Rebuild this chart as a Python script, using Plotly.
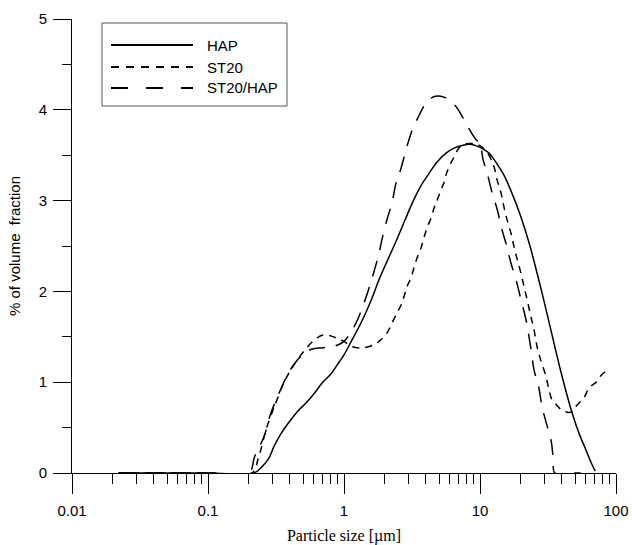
import plotly.graph_objects as go

# ---------------- data ----------------
hap_x = [0.022, 0.1, 0.218, 0.25, 0.28, 0.305, 0.34, 0.39, 0.45, 0.525, 0.6, 0.69, 0.8, 0.92, 1.0,
         1.14, 1.36, 1.6, 1.81, 2.1, 2.41, 2.8, 3.17, 3.7, 4.22, 4.8, 5.6, 6.5, 7.5, 8.5, 9.5, 10.5,
         11.7, 13, 15, 17.2, 20, 23, 26.5, 30.6, 35, 40.2, 47.6, 54, 60.3, 65, 70.3]
hap_y = [0, 0, 0, 0.07, 0.16, 0.29, 0.42, 0.55, 0.67, 0.77, 0.87, 0.99, 1.09, 1.22, 1.30,
         1.46, 1.68, 1.92, 2.13, 2.35, 2.55, 2.78, 2.97, 3.17, 3.30, 3.42, 3.52, 3.58, 3.61, 3.62, 3.60, 3.57,
         3.52, 3.43, 3.28, 3.08, 2.82, 2.53, 2.18, 1.80, 1.43, 1.06, 0.66, 0.42, 0.25, 0.13, 0.02]

st20_x = [0.022, 0.1, 0.21, 0.236, 0.27, 0.315, 0.36, 0.42, 0.5, 0.6, 0.7, 0.8, 0.9, 1.0, 1.15,
          1.4, 1.7, 1.81, 2.07, 2.25, 2.45, 2.63, 2.76, 2.9, 3.11, 3.27, 3.45, 3.69, 3.87, 4.08,
          4.37, 4.6, 4.83, 5.17, 5.44, 5.7, 6.1, 6.45, 7.0, 7.6, 8.5, 9.5, 10.5, 11.3, 12.1, 12.7,
          13.4, 14.3, 15, 15.8, 16.9, 17.8, 18.8, 20, 21.1, 22.2, 23.7, 25, 26.3, 28, 30.6, 32.2,
          34, 36, 40.2, 46.6, 51.8, 58.2, 63.6, 71.4, 78.2, 86, 88]
st20_y = [0, 0, 0, 0.18, 0.50, 0.77, 0.99, 1.17, 1.33, 1.46, 1.52, 1.51, 1.48, 1.45, 1.39,
          1.38, 1.42, 1.45, 1.54, 1.65, 1.76, 1.85, 1.94, 2.05, 2.15, 2.26, 2.37, 2.48, 2.59, 2.70,
          2.81, 2.92, 3.00, 3.12, 3.20, 3.31, 3.41, 3.48, 3.58, 3.62, 3.63, 3.62, 3.58, 3.53, 3.45, 3.37,
          3.22, 3.08, 2.93, 2.79, 2.64, 2.49, 2.35, 2.20, 2.05, 1.91, 1.72, 1.57, 1.39, 1.24, 1.06, 0.91,
          0.80, 0.76, 0.69, 0.67, 0.75, 0.83, 0.94, 1.00, 1.08, 1.13, 1.14]

mix_x = [0.022, 0.1, 0.2, 0.22, 0.258, 0.29, 0.34, 0.39, 0.47, 0.57, 0.7, 0.8, 0.9, 1.0, 1.1,
         1.25, 1.5, 1.81, 1.9, 2.07, 2.25, 2.41, 2.63, 2.86, 3.11, 3.57, 4.08, 4.7, 5.44, 6.1,
         6.78, 8.03, 9.35, 10.0, 10.5, 11.3, 12.3, 13.4, 14.5, 15.8, 16.9, 18.4, 20.0, 21.7, 23.5,
         25, 27, 28.6, 30.6, 33.3, 34.5, 35.5, 45, 55]
mix_y = [0, 0, 0, 0.18, 0.40, 0.66, 0.91, 1.10, 1.27, 1.36, 1.38, 1.39, 1.41, 1.45, 1.53,
         1.68, 2.00, 2.42, 2.57, 2.79, 2.97, 3.19, 3.36, 3.56, 3.74, 3.94, 4.09, 4.15, 4.14, 4.09,
         4.02, 3.83, 3.67, 3.64, 3.46, 3.30, 3.08, 2.90, 2.68, 2.49, 2.31, 2.13, 1.91, 1.70, 1.40,
         1.13, 0.95, 0.73, 0.56, 0.36, 0.17, 0, 0, 0]

series_names = ["HAP", "ST20", "ST20/HAP"]
x_tickvals = [0.01, 0.1, 1, 10, 100]
x_ticktext = ["0.01", "0.1", "1", "10", "100"]
y_tickvals = [0, 1, 2, 3, 4, 5]

dashes = ["solid", "7px,6px", "16px,11px"]
legend_dashes = ["solid", "8px,7px", "17px,18px"]

SANS = "Liberation Sans, Arial"
SERIF = "Liberation Serif, Times New Roman"

fig = go.Figure()
for xs, ys, name, d in zip([hap_x, st20_x, mix_x], [hap_y, st20_y, mix_y], series_names, dashes):
    fig.add_trace(go.Scatter(x=xs, y=ys, mode="lines", name=name, line_shape="spline",
                             line=dict(color="black", width=1.5, dash=d), showlegend=False))

# custom legend (box, line samples, labels)
L, R, T, B = 72, 616, 19, 473
W, H = R - L, B - T
def px(x): return (x - L) / W
def py(y): return (B - y) / H

fig.add_shape(type="rect", xref="paper", yref="paper", x0=px(102), x1=px(287), y0=py(106), y1=py(23),
              line=dict(color="#555555", width=1), fillcolor="white", layer="above")
rows = [45, 67, 88]
for name, d, r in zip(series_names, legend_dashes, rows):
    fig.add_shape(type="line", xref="paper", yref="paper", x0=px(111), x1=px(193), y0=py(r), y1=py(r),
                  line=dict(color="black", width=2, dash=d), layer="above")
    fig.add_annotation(xref="paper", yref="paper", x=px(205), y=py(r), text=name, showarrow=False,
                       xanchor="left", yanchor="middle",
                       font=dict(family=SANS, size=15, color="black"))

fig.update_layout(
    width=632, height=545,
    margin=dict(l=L, r=632 - R, t=T, b=545 - B, autoexpand=False),
    plot_bgcolor="white", paper_bgcolor="white",
    font=dict(family=SANS, size=15, color="black"),
)
fig.update_xaxes(type="log", range=[-2, 2], showgrid=False, zeroline=False, automargin=False,
                 showline=True, linecolor="black", linewidth=1,
                 tickmode="array", tickvals=x_tickvals, ticktext=x_ticktext,
                 ticks="outside", ticklen=20, tickcolor="black", tickwidth=1,
                 minor=dict(ticks="outside", ticklen=10, tickcolor="black", dtick="D1", showgrid=False),
                 ticklabelstandoff=4, tickfont=dict(family=SANS, size=15),
                 title=dict(text="Particle size [µm]", font=dict(family=SERIF, size=16),
                            standoff=11))
fig.update_yaxes(range=[0, 5], showgrid=False, zeroline=False, automargin=False,
                 showline=True, linecolor="black", linewidth=1,
                 tickvals=y_tickvals, ticks="outside", ticklen=18, tickcolor="black", tickwidth=1,
                 minor=dict(ticks="outside", ticklen=9, tickcolor="black", dtick=0.5, showgrid=False),
                 ticklabelstandoff=3, tickfont=dict(family=SANS, size=15),
                 title=dict(text="% of volume\u00a0 fraction", font=dict(family=SANS, size=15),
                            standoff=14))

fig.write_html("out.html")
